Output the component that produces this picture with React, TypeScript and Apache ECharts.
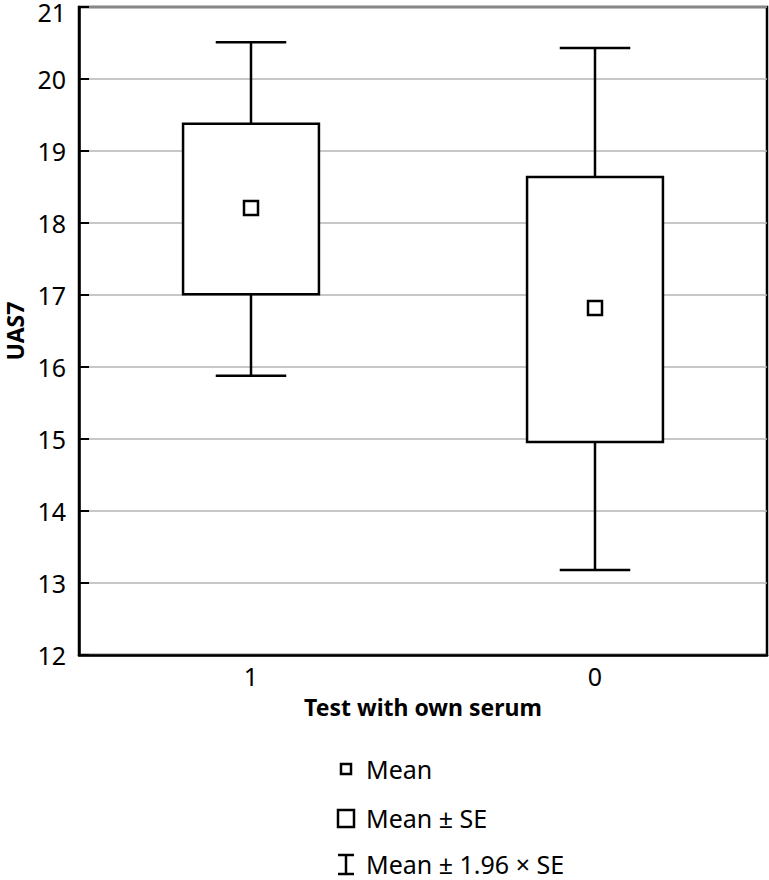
import React, { useEffect, useRef } from "react";
import * as echarts from "echarts";

const categories = ["1", "0"];
const lower196 = [15.88, 13.18];
const lowerSE = [17.01, 14.96];
const means = [18.21, 16.82];
const upperSE = [19.38, 18.64];
const upper196 = [20.51, 20.43];
const yTicks = { min: 12, max: 21, interval: 1 };
const legendLabels = ["Mean", "Mean \u00b1 SE", "Mean \u00b1 1.96 \u00d7 SE"];

const FONT = "'Noto Sans', 'Open Sans', sans-serif";
const LW = 2.5;

export default function App() {
  const ref = useRef<HTMLDivElement>(null);
  useEffect(() => {
    if (!ref.current) return;
    const chart = echarts.init(ref.current, null, { renderer: "svg" });
    const data = categories.map((_, i) => [i, lower196[i], lowerSE[i], means[i], upperSE[i], upper196[i]]);
    const lx = 346;
    const ly = [769, 818, 864];
    chart.setOption({
      animation: false,
      backgroundColor: "#fff",
      grid: {
        left: 79,
        right: 2,
        top: 7,
        bottom: 225,
        outerBoundsMode: "none",
        containLabel: false,
        show: true,
        borderColor: "#000",
        borderWidth: LW,
        backgroundColor: "transparent",
      },
      xAxis: {
        type: "category",
        data: categories,
        name: "Test with own serum",
        nameLocation: "middle",
        nameGap: 40,
        nameTextStyle: { fontFamily: FONT, fontSize: 23, fontWeight: "bold", color: "#000" },
        axisLine: { lineStyle: { color: "#000", width: LW } },
        axisTick: { alignWithLabel: true, inside: true, length: 10, lineStyle: { color: "#000", width: 2 } },
        axisLabel: { fontFamily: FONT, fontSize: 25, color: "#000", margin: 8 },
        splitLine: { show: false },
      },
      yAxis: {
        type: "value",
        min: yTicks.min,
        max: yTicks.max,
        interval: yTicks.interval,
        name: "UAS7",
        nameLocation: "middle",
        nameGap: 51,
        nameTextStyle: { fontFamily: FONT, fontSize: 23, fontWeight: "bold", color: "#000" },
        axisLine: { show: true, lineStyle: { color: "#000", width: LW } },
        axisTick: { show: true, inside: true, length: 10, lineStyle: { color: "#000", width: 2 } },
        axisLabel: {
          fontFamily: FONT,
          fontSize: 25,
          color: "#000",
          margin: 13,
          formatter: (v: number) => (v === yTicks.max ? "{top|" + v + "}" : String(v)),
          rich: { top: { fontFamily: FONT, fontSize: 25, color: "#000", padding: [9, 0, 0, 0] } },
        },
        splitLine: { show: true, lineStyle: { color: "#b5b5b5", width: 1.5 } },
      },
      series: [
        {
          type: "custom",
          data,
          encode: { x: 0, y: [1, 2, 3, 4, 5] },
          z: 5,
          renderItem: (params: any, api: any) => {
            const x = api.value(0);
            const band = api.size([1, 0])[0];
            const bw = band * 0.395;
            const cw = band * 0.205;
            const pLo = api.coord([x, api.value(1)]);
            const pSeLo = api.coord([x, api.value(2)]);
            const pMean = api.coord([x, api.value(3)]);
            const pSeHi = api.coord([x, api.value(4)]);
            const pHi = api.coord([x, api.value(5)]);
            const cx = pMean[0];
            const ls = { stroke: "#000", lineWidth: LW };
            return {
              type: "group",
              children: [
                { type: "line", shape: { x1: cx, y1: pHi[1], x2: cx, y2: pSeHi[1] }, style: ls },
                { type: "line", shape: { x1: cx - cw / 2, y1: pHi[1], x2: cx + cw / 2, y2: pHi[1] }, style: ls },
                { type: "line", shape: { x1: cx, y1: pSeLo[1], x2: cx, y2: pLo[1] }, style: ls },
                { type: "line", shape: { x1: cx - cw / 2, y1: pLo[1], x2: cx + cw / 2, y2: pLo[1] }, style: ls },
                {
                  type: "rect",
                  shape: { x: cx - bw / 2, y: pSeHi[1], width: bw, height: pSeLo[1] - pSeHi[1] },
                  style: { fill: "#fff", stroke: "#000", lineWidth: LW },
                },
                {
                  type: "rect",
                  shape: { x: cx - 7, y: pMean[1] - 7, width: 14, height: 14 },
                  style: { fill: "#fff", stroke: "#000", lineWidth: LW },
                },
              ],
            };
          },
        },
      ],
      graphic: [
        {
          type: "rect",
          shape: { x: lx - 5, y: ly[0] - 5, width: 10, height: 10 },
          style: { fill: "#fff", stroke: "#000", lineWidth: 2.5 },
        },
        {
          type: "rect",
          shape: { x: lx - 8, y: ly[1] - 8, width: 16, height: 17 },
          style: { fill: "#fff", stroke: "#000", lineWidth: 2.5 },
        },
        { type: "line", shape: { x1: lx, y1: ly[2] - 9, x2: lx, y2: ly[2] + 10 }, style: { stroke: "#000", lineWidth: 2.5 } },
        { type: "line", shape: { x1: lx - 8, y1: ly[2] - 9, x2: lx + 8, y2: ly[2] - 9 }, style: { stroke: "#000", lineWidth: 2.5 } },
        { type: "line", shape: { x1: lx - 8, y1: ly[2] + 10, x2: lx + 8, y2: ly[2] + 10 }, style: { stroke: "#000", lineWidth: 2.5 } },
        ...legendLabels.map((t, i) => ({
          type: "text",
          x: 366,
          y: ly[i],
          style: { text: t, fontFamily: FONT, fontSize: 25, fill: "#000", textVerticalAlign: "middle", textAlign: "left" },
        })),
      ],
    });
    return () => chart.dispose();
  }, []);
  return <div ref={ref} style={{ width: 769, height: 880, position: "absolute", left: 0, top: 0 }} />;
}
